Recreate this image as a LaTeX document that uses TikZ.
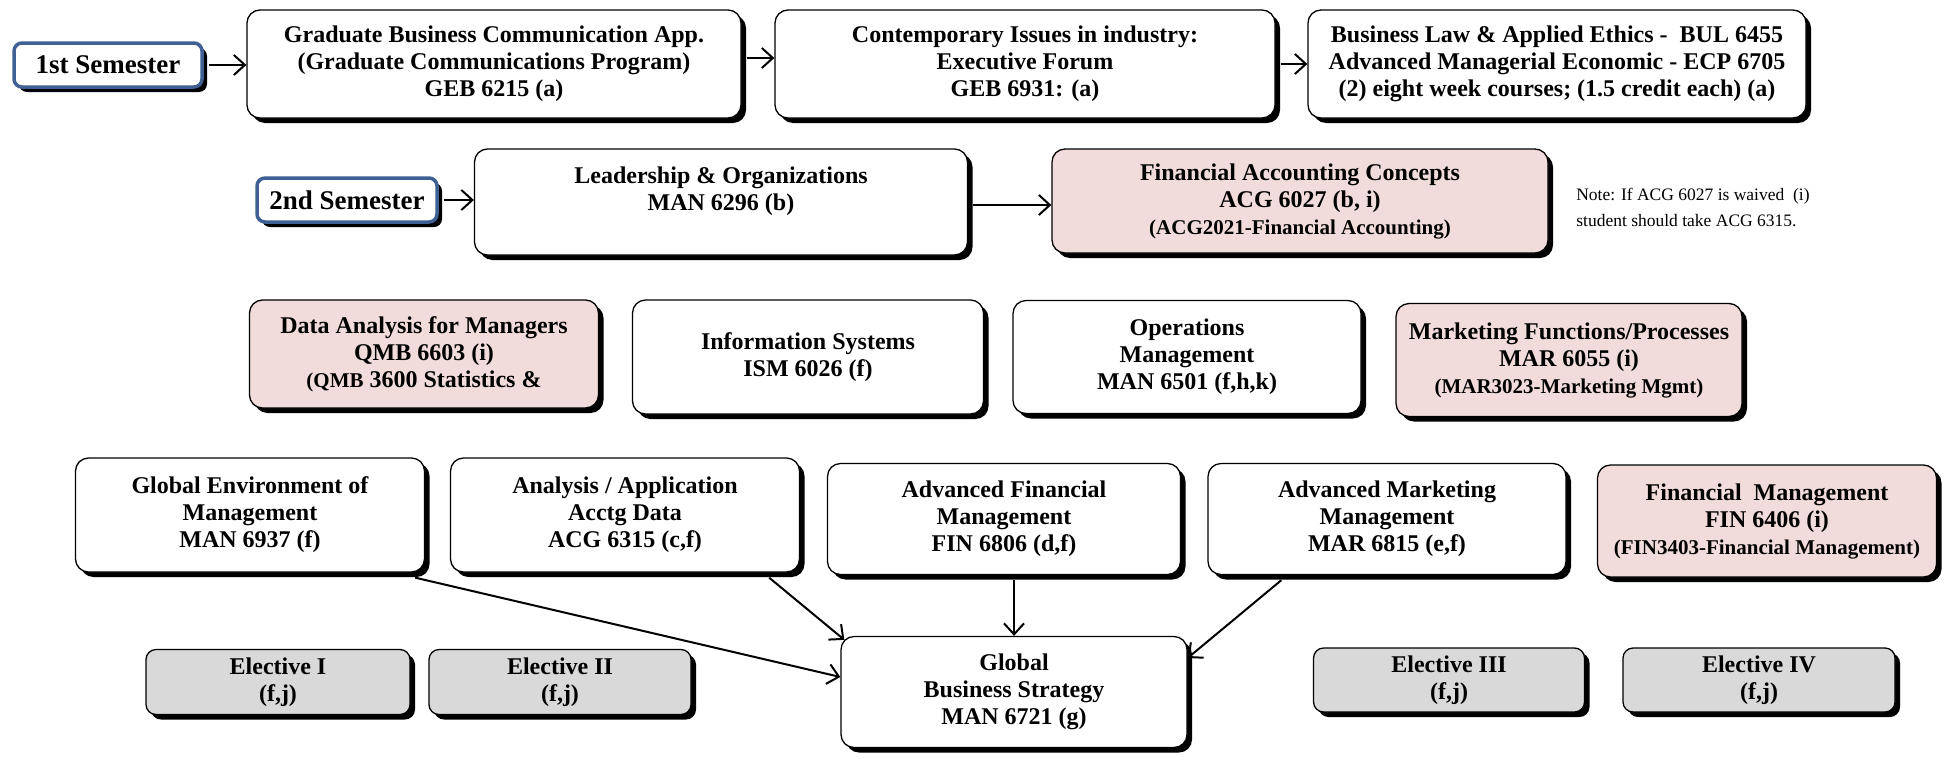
\documentclass[tikz,border=0pt]{standalone}
\usepackage{fontspec}
\setmainfont{Liberation Serif}
\usetikzlibrary{arrows.meta,shadows}
\definecolor{semblue}{RGB}{62,96,148}
\definecolor{pinkfill}{RGB}{242,220,219}
\definecolor{greyfill}{RGB}{217,217,217}
\newcommand{\smallline}[1]{{\fontsize{21}{26}\selectfont #1}}
\begin{document}
\begin{tikzpicture}[x=1pt,y=-1pt,line width=2pt,>={Straight Barb[length=11pt,width=20pt]},
	boxsize/.style 2 args={minimum width=#1,minimum height=#2},
	course/.style={draw,line width=1.3pt,rounded corners=13pt,fill=white,align=center,inner sep=2pt,
		font=\bfseries\fontsize{24}{27}\selectfont,
		drop shadow={shadow xshift=5pt,shadow yshift=-5pt,fill=black,opacity=1}},
	semester/.style={course,draw=semblue,line width=3.5pt,rounded corners=8pt,font=\bfseries\fontsize{27}{30}\selectfont},
	prereq/.style={course,fill=pinkfill},
	elective/.style={course,fill=greyfill,rounded corners=10pt}]
		\useasboundingbox (0,0) rectangle (1948,758);
		\node[semester,boxsize={188}{44}] (sem1) at (108,65) {1st Semester};
		\node[course,boxsize={494}{108}] (gbca) at (494,64) {Graduate Business Communication App.\\(Graduate Communications Program)\\GEB 6215 (a)};
		\node[course,boxsize={500}{108}] (conf) at (1025,64) {Contemporary Issues in industry:\\Executive Forum\\GEB 6931: (a)};
		\node[course,boxsize={498}{108}] (law) at (1557,64) {Business Law \& Applied Ethics -\ \ BUL 6455\\Advanced Managerial Economic - ECP 6705\\(2) eight week courses; (1.5 credit each) (a)};
		\node[semester,boxsize={180}{44}] (sem2) at (347,200) {2nd Semester};
		\node[course,boxsize={493}{106}] (lead) at (721,202) {Leadership \& Organizations\\MAN 6296 (b)\\\mbox{}};
		\node[prereq,boxsize={496}{104}] (facc) at (1300,201) {Financial Accounting Concepts\\ACG 6027 (b, i)\\\smallline{(ACG2021-Financial Accounting)}};
		\node[anchor=west,align=left,font=\fontsize{17.5}{26}\selectfont] (note) at (1572,207) {Note: If ACG 6027 is waived\ \ (i)\\student should take ACG 6315.};
		\node[prereq,boxsize={349}{108}] (da) at (424,354) {Data Analysis for Managers\\QMB 6603 (i)\\\smallline{(QMB} 3600 Statistics \&};
		\node[course,boxsize={351}{114}] (is) at (808,357) {Information Systems\\ISM 6026 (f)};
		\node[course,boxsize={348}{113}] (ops) at (1187,357) {Operations\\Management\\MAN 6501 (f,h,k)};
		\node[prereq,boxsize={346}{113}] (mkt) at (1569,360) {Marketing Functions/Processes\\MAR 6055 (i)\\\smallline{(MAR3023-Marketing Mgmt)}};
		\node[course,boxsize={349}{114}] (genv) at (250,515) {Global Environment of\\Management\\MAN 6937 (f)};
		\node[course,boxsize={349}{114}] (aacc) at (625,515) {Analysis / Application\\Acctg Data\\ACG 6315 (c,f)};
		\node[course,boxsize={353}{111}] (afin) at (1004,519) {Advanced Financial\\Management\\FIN 6806 (d,f)};
		\node[course,boxsize={358}{111}] (amkt) at (1387,519) {Advanced Marketing\\Management\\MAR 6815 (e,f)};
		\node[prereq,boxsize={339}{112}] (fmgt) at (1767,521) {Financial\ \ Management\\FIN 6406 (i)\\\smallline{(FIN3403-Financial Management)}};
		\node[elective,boxsize={264}{65}] (el1) at (278,682) {Elective I\\(f,j)};
		\node[elective,boxsize={262}{65}] (el2) at (560,682) {Elective II\\(f,j)};
		\node[course,boxsize={346}{111}] (gbs) at (1014,692) {Global\\Business Strategy\\MAN 6721 (g)};
		\node[elective,boxsize={271}{64}] (el3) at (1449,680) {Elective III\\(f,j)};
		\node[elective,boxsize={272}{64}] (el4) at (1759,680) {Elective IV\\(f,j)};
		\draw[->] ([xshift=5pt]sem1.east) -- (sem1.east -| gbca.west);
		\draw[->] ([shift={(5pt,6pt)}]gbca.east) -- ([yshift=6pt]conf.west);
		\draw[->] ([xshift=5pt]conf.east) -- (conf.east -| law.west);
		\draw[->] ([xshift=5pt]sem2.east) -- (sem2.east -| lead.west);
		\draw[->] ([shift={(5pt,-3pt)}]lead.east) -- ([yshift=-3pt]lead.east -| facc.west);
		\draw[->] ([xshift=-10pt,yshift=-5pt]genv.south east) -- ([yshift=15pt]gbs.west);
		\draw[->] ([xshift=-31pt,yshift=-5pt]aacc.south east) -- ([shift={(4pt,-4pt)}]gbs.north west);
		\draw[->] ([yshift=-5pt]gbs.north |- afin.south) -- (gbs.north);
		\draw[->] ([xshift=74pt,yshift=-5pt]amkt.south west) -- ([yshift=34pt]gbs.east);
\end{tikzpicture}
\end{document}
